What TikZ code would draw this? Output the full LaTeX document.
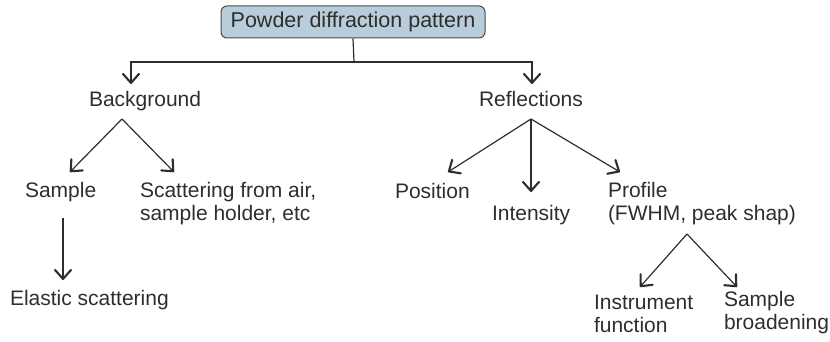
\documentclass[tikz,border=0pt]{standalone}
\usepackage{fontspec}
\setmainfont{Liberation Sans}
\usetikzlibrary{arrows.meta}
\definecolor{ink}{HTML}{2E2E2E}
\definecolor{boxfill}{HTML}{B8CCD9}
\definecolor{boxline}{HTML}{4A4A4A}
\tikzset{
  lbl/.style={inner sep=0pt, outer sep=0pt, anchor=base west, align=left,
    text=ink, font=\fontsize{21}{23}\selectfont},
  rootbox/.style={draw=boxline, line width=1pt, fill=boxfill, rounded corners=6pt,
    minimum width=264pt, minimum height=32pt, inner sep=0pt, text=ink,
    font=\fontsize{21.5}{24}\selectfont},
  link/.style={draw=ink, line width=1.2pt},
  arrow/.style={link, -{Straight Barb[length=9pt,width=16pt,line width=2.1pt,round]}}
}
\begin{document}
\begin{tikzpicture}[x=1pt,y=-1pt]
\useasboundingbox (0,0) rectangle (830,342);

% root
\node[rootbox] (root) at (353,22) {Powder diffraction pattern};

% text nodes (base anchor of a two-line node sits on its last line)
\node[lbl] (bg)   at (89,106.5)  {Background};
\node[lbl] (refl) at (479,106.5) {Reflections};
\node[lbl] (samp) at (25,197)    {Sample};
\node[lbl] (scat) at (140,220)   {Scattering from air,\\sample holder, etc};
\node[lbl] (elas) at (10,305)    {Elastic scattering};
\node[lbl] (pos)  at (395,198)   {Position};
\node[lbl] (int)  at (492,220)   {Intensity};
\node[lbl] (prof) at (608,220)   {Profile\\(FWHM, peak shap)};
\node[lbl] (inst) at (594,332)   {Instrument\\function};
\node[lbl] (sbr)  at (724,329.5) {Sample\\broadening};

% branch points and arrow ends
\coordinate (split) at (354,62);
\coordinate (bgtop) at (131,62);
\coordinate (rftop) at (532,62);
\coordinate (bgfork) at (122,119);
\coordinate (rffork) at (531,119);
\coordinate (prfork) at (687,234);
\coordinate (sampend) at (70,172);
\coordinate (scatend) at (174,172);
\coordinate (posend) at (448,172);
\coordinate (intend) at (531,192);
\coordinate (profend) at (620,172);
\coordinate (instend) at (640,287);
\coordinate (sbrend) at (737,287);
\coordinate (elastop) at (63,218);
\coordinate (elasend) at (63,280);

% connectors
\draw[link] (root.south) -- (split);
\draw[arrow] (split) -- (bgtop) -- (131,84);
\draw[arrow] (split) -- (rftop) -- (532,84);
\draw[arrow] (bgfork) -- (sampend);
\draw[arrow] (bgfork) -- (scatend);
\draw[arrow] (elastop) -- (elasend);
\draw[arrow] (rffork) -- (posend);
\draw[arrow] (rffork) -- (intend);
\draw[arrow] (rffork) -- (profend);
\draw[arrow] (prfork) -- (instend);
\draw[arrow] (prfork) -- (sbrend);
\end{tikzpicture}
\end{document}
